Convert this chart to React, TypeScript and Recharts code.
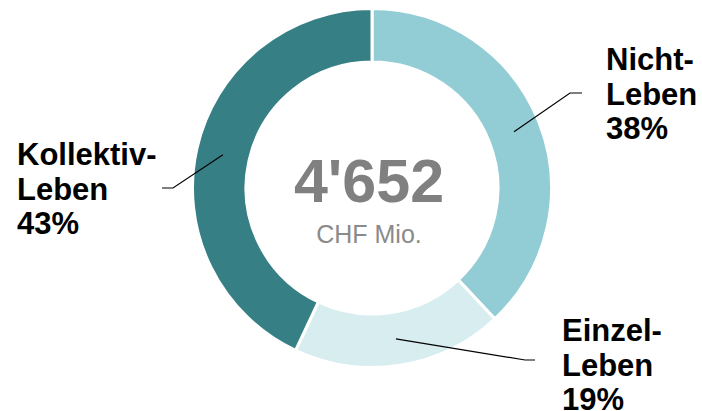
import React from 'react';
import { PieChart, Pie, Cell } from 'recharts';

const categories = ['Nicht-Leben', 'Einzel-Leben', 'Kollektiv-Leben'];
const labelLine1 = ['Nicht-', 'Einzel-', 'Kollektiv-'];
const labelLine2 = ['Leben', 'Leben', 'Leben'];
const shares = [38, 19, 43];
const totalLabel = "4'652";
const unitLabel = 'CHF Mio.';

const colors = ['#92CDD5', '#D8EDEF', '#367F84'];
// label layout relative to the pie centre: elbow point, line end, text anchor (left x, first baseline y)
const elbowOffsets = [[198, -95], [153, 172], [-199, 0]];
const endOffsets = [[210, -95], [163, 172], [-210, 0]];
const textOffsets = [[234, -118], [190, 153], [-355, -23]];

const data = categories.map((name, i) => ({ name, value: shares[i] }));

const RAD = Math.PI / 180;

const renderLabel = (props: any) => {
  const { cx, cy, midAngle, innerRadius, outerRadius, index } = props;
  const r = (innerRadius + outerRadius) / 2;
  const sx = cx + r * Math.cos(-midAngle * RAD);
  const sy = cy + r * Math.sin(-midAngle * RAD);
  const [ex, ey] = elbowOffsets[index];
  const [fx, fy] = endOffsets[index];
  const [tx, ty] = textOffsets[index];
  const lh = 34.5;
  return (
    <g>
      <polyline
        points={`${sx},${sy} ${cx + ex},${cy + ey} ${cx + fx},${cy + fy}`}
        fill="none"
        stroke="#000"
        strokeWidth={1.2}
      />
      <text
        x={cx + tx}
        y={cy + ty}
        fill="#000"
        fontFamily="Liberation Sans, Arial, sans-serif"
        fontWeight="bold"
        fontSize={31}
        textAnchor="start"
      >
        <tspan x={cx + tx} dy={0}>{labelLine1[index]}</tspan>
        <tspan x={cx + tx} dy={lh}>{labelLine2[index]}</tspan>
        <tspan x={cx + tx} dy={lh}>{`${shares[index]}%`}</tspan>
      </text>
    </g>
  );
};

export default function App() {
  const cx = 372;
  const cy = 188;
  return (
    <div style={{ position: 'absolute', left: 0, top: 0, width: 702, height: 411, background: '#fff' }}>
      <PieChart width={702} height={411} margin={{ top: 0, right: 0, bottom: 0, left: 0 }}>
        <Pie
          data={data}
          dataKey="value"
          nameKey="name"
          cx={cx}
          cy={cy}
          innerRadius={126}
          outerRadius={179.5}
          startAngle={90}
          endAngle={-270}
          stroke="#fff"
          strokeWidth={3}
          label={renderLabel}
          labelLine={false}
          isAnimationActive={false}
        >
          {data.map((d, i) => (
            <Cell key={d.name} fill={colors[i]} />
          ))}
        </Pie>
        <text
          x={cx - 3}
          y={cy + 14}
          textAnchor="middle"
          fill="#808080"
          fontFamily="Liberation Sans, Arial, sans-serif"
          fontWeight="bold"
          fontSize={61}
        >
          {totalLabel}
        </text>
        <text
          x={cx - 3}
          y={cy + 55}
          textAnchor="middle"
          fill="#8a8a8a"
          fontFamily="Liberation Sans, Arial, sans-serif"
          fontSize={25}
        >
          {unitLabel}
        </text>
      </PieChart>
    </div>
  );
}
